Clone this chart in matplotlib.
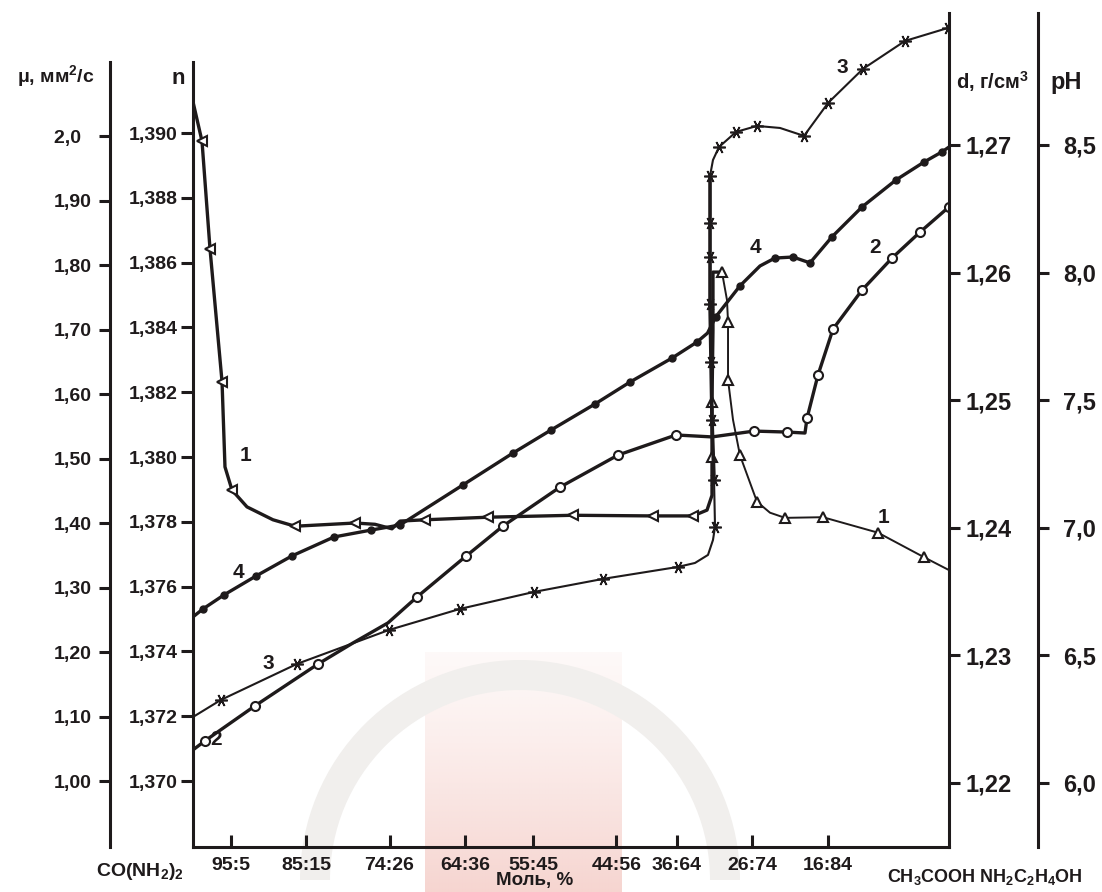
import numpy as np
import matplotlib.pyplot as plt
from matplotlib.patches import Wedge

plt.rcParams['font.family'] = ['Liberation Sans', 'DejaVu Sans']
plt.rcParams['font.weight'] = 'bold'
plt.rcParams['mathtext.fontset'] = 'custom'
plt.rcParams['mathtext.rm'] = 'Liberation Sans:bold'
plt.rcParams['mathtext.bf'] = 'Liberation Sans:bold'
plt.rcParams['mathtext.it'] = 'Liberation Sans:bold'

INK = '#1e1a1b'
W, H = 1102, 892

# x axis: mol % of the second component (CH3COOH NH2C2H4OH)
x_ticks = [5, 15, 26, 36, 45, 56, 64, 74, 84]
x_labels = ['95:5', '85:15', '74:26', '64:36', '55:45', '44:56', '36:64', '26:74', '16:84']

# tick values of the four vertical scales
mu_ticks = [1.00, 1.10, 1.20, 1.30, 1.40, 1.50, 1.60, 1.70, 1.80, 1.90, 2.0]
mu_labels = ['1,00', '1,10', '1,20', '1,30', '1,40', '1,50', '1,60', '1,70', '1,80', '1,90', '2,0  ']
n_ticks = [1.370, 1.372, 1.374, 1.376, 1.378, 1.380, 1.382, 1.384, 1.386, 1.388, 1.390]
n_labels = ['1,370', '1,372', '1,374', '1,376', '1,378', '1,380', '1,382', '1,384', '1,386', '1,388', '1,390']
d_ticks = [1.22, 1.23, 1.24, 1.25, 1.26, 1.27]
d_labels = ['1,22', '1,23', '1,24', '1,25', '1,26', '1,27']
ph_ticks = [6.0, 6.5, 7.0, 7.5, 8.0, 8.5]
ph_labels = ['6,0', '6,5', '7,0', '7,5', '8,0', '8,5']

# curve 1 - viscosity (triangles); mark: 0 none, 1 '<', 2 '^'
mu_x = [0, 1.19, 2.25, 3.84, 4.23, 5.16, 7.14, 10.58, 13.49, 21.43, 24.07, 26.32, 27.38,
        30.69, 39.02, 50.26, 60.85, 66.14, 67.99, 68.65, 68.65, 68.65, 68.78, 68.78, 69.97,
        70.63, 70.77, 70.77, 71.43, 72.35, 74.60, 76.32, 78.31, 83.33, 90.61, 96.69, 100]
mu_y = [2.053, 1.992, 1.825, 1.619, 1.487, 1.451, 1.425, 1.405, 1.395, 1.400, 1.398, 1.391, 1.403,
        1.405, 1.409, 1.412, 1.411, 1.411, 1.420, 1.443, 1.502, 1.588, 1.699, 1.789, 1.789,
        1.746, 1.712, 1.622, 1.560, 1.505, 1.433, 1.416, 1.408, 1.409, 1.385, 1.347, 1.327]
mu_mark = [0, 1, 1, 1, 0, 1, 0, 0, 1, 1, 0, 0, 0,
           1, 1, 1, 1, 1, 0, 0, 2, 2, 0, 0, 2,
           0, 2, 2, 0, 2, 2, 0, 2, 2, 2, 2, 0]
mu_peak = 24

# curve 2 - refractive index (open circles)
n_x = [0, 1.59, 8.20, 16.53, 21.16, 25.79, 29.63, 36.11, 41.01, 48.54, 56.22, 63.89, 68.65,
       74.21, 78.57, 80.95, 81.22, 82.67, 84.66, 88.49, 92.46, 96.16, 100]
n_y = [1.37096, 1.37124, 1.37232, 1.37361, 1.37426, 1.37488, 1.37568, 1.37694, 1.37787,
       1.37907, 1.38006, 1.38068, 1.38062, 1.38080, 1.38077, 1.38074, 1.38120, 1.38253,
       1.38395, 1.38515, 1.38614, 1.38694, 1.38772]
n_mark = [0, 1, 1, 1, 0, 0, 1, 1, 1, 1, 1, 1, 0, 1, 1, 0, 1, 1, 1, 1, 1, 1, 1]

# curve 3 - density (stars)
d_x = [0, 3.70, 13.76, 25.93, 35.32, 45.11, 54.23, 64.15, 66.40, 68.12, 68.78, 69.05, 68.92,
       68.65, 68.52, 68.39, 68.39, 68.39, 68.39, 68.78, 69.58, 71.83, 74.60, 77.65, 80.82,
       84.00, 88.62, 94.18, 99.87]
d_y = [1.22517, 1.22651, 1.22933, 1.23199, 1.23364, 1.23497, 1.23599, 1.23693, 1.23724,
       1.23787, 1.23904, 1.24006, 1.24375, 1.24845, 1.25299, 1.25754, 1.26122, 1.26389,
       1.26757, 1.26882, 1.26984, 1.27102, 1.27149, 1.27133, 1.27071, 1.27329, 1.27596,
       1.27815, 1.27917]
d_mark = [0, 1, 1, 1, 1, 1, 1, 1, 0, 0, 0, 1, 1, 1, 1, 1, 1, 1, 1, 0, 1, 1, 1, 0, 1, 1, 1, 1, 1]
d_steep = (12, 19)

# curve 4 - pH (filled dots)
ph_x = [0, 1.32, 4.10, 8.33, 13.10, 18.65, 23.54, 27.38, 35.71, 42.33, 47.35, 53.17, 57.80,
        63.36, 66.67, 68.06, 69.13, 72.35, 75.00, 76.98, 79.37, 81.61, 84.52, 88.49, 92.99,
        96.69, 99.07, 100]
ph_y = [6.651, 6.682, 6.737, 6.811, 6.890, 6.964, 6.991, 7.011, 7.168, 7.293, 7.383, 7.485,
        7.571, 7.665, 7.728, 7.763, 7.826, 7.948, 8.026, 8.057, 8.061, 8.038, 8.140, 8.257,
        8.363, 8.433, 8.473, 8.492]
ph_mark = [0, 1, 1, 1, 1, 1, 1, 1, 1, 1, 1, 1, 1, 1, 1, 0, 1, 1, 0, 1, 1, 1, 1, 1, 1, 1, 1, 0]


def fx(px):
    return px / W


def fy(py):
    return 1 - py / H


fig = plt.figure(figsize=(W / 100, H / 100), dpi=100)

# faint publisher watermark, drawn on a background layer in pixel units
bg = fig.add_axes([0, 0, 1, 1], zorder=-1)
bg.set_xlim(0, W)
bg.set_ylim(H, 0)
bg.axis('off')
bg.add_patch(Wedge((520, 880), 220, 180, 360, width=30, facecolor='#f1efed',
                   edgecolor='none'))
ramp = np.linspace(0, 1, 120)[:, None] ** 1.2
pink = np.zeros((120, 2, 4))
pink[..., 0], pink[..., 1], pink[..., 2] = 0.96, 0.80, 0.78
pink[..., 3] = 0.12 + 0.7 * ramp
bg.imshow(pink, extent=(425, 622, 892, 652), origin='upper', aspect='auto',
          interpolation='bilinear')

ax = fig.add_axes([fx(193), fy(847), fx(949 - 193), (847 - 13) / H])
ax.patch.set_visible(False)
ax_mu = ax.twinx()
ax_d = ax.twinx()
ax_ph = ax.twinx()

ax.set_xlim(0, 100)
ax.set_ylim(1.367963, 1.393704)
ax_mu.set_ylim(0.8977, 2.1907)
ax_d.set_ylim(1.21498, 1.28034)
ax_ph.set_ylim(5.7492, 9.0172)

for a in (ax, ax_mu, ax_d, ax_ph):
    for s in a.spines.values():
        s.set_visible(False)
        s.set_linewidth(2.2)
        s.set_color(INK)

ax.spines['left'].set_visible(True)
ax.spines['left'].set_bounds(1.367963, 1.392191)
ax.spines['bottom'].set_visible(True)
ax.set_xticks(x_ticks, x_labels)
ax.tick_params(axis='x', direction='in', length=9, width=2.2, labelsize=14, pad=7, colors=INK)
ax.set_yticks(n_ticks, n_labels)
ax.tick_params(axis='y', direction='out', length=9, width=2.2, labelsize=14, pad=2, colors=INK)

ax_mu.yaxis.tick_left()
ax_mu.spines['left'].set_visible(True)
ax_mu.spines['left'].set_position(('axes', -0.1098))
ax_mu.spines['left'].set_bounds(0.8977, 2.1147)
ax_mu.set_yticks(mu_ticks, mu_labels)
ax_mu.tick_params(axis='y', direction='out', length=8, width=2.2, labelsize=14, pad=5, colors=INK)

ax_d.spines['right'].set_visible(True)
ax_d.set_yticks(d_ticks, d_labels)
ax_d.tick_params(axis='y', direction='out', length=8, width=2.2, labelsize=17, pad=4, colors=INK)

ax_ph.spines['right'].set_visible(True)
ax_ph.spines['right'].set_position(('axes', 1.1177))
ax_ph.set_yticks(ph_ticks, ph_labels)
ax_ph.tick_params(axis='y', direction='out', length=8, width=2.2, labelsize=17, pad=10, colors=INK)


def draw_marks(a, xs, ys, flags, style):
    for code, kw in style.items():
        px = [x for x, f in zip(xs, flags) if f == code]
        py = [y for y, f in zip(ys, flags) if f == code]
        a.plot(px, py, linestyle='none', color=INK, zorder=4, **kw)


# curve 1
ax_mu.plot(mu_x[:mu_peak + 1], mu_y[:mu_peak + 1], color=INK, lw=2.4, zorder=3)
ax_mu.plot(mu_x[mu_peak:], mu_y[mu_peak:], color=INK, lw=1.4, zorder=3)
draw_marks(ax_mu, mu_x, mu_y, mu_mark, {
    1: dict(marker='<', ms=7, mfc='white', mec=INK, mew=1.5),
    2: dict(marker='^', ms=7, mfc='white', mec=INK, mew=1.5)})

# curve 2
ax.plot(n_x, n_y, color=INK, lw=2.4, zorder=3)
draw_marks(ax, n_x, n_y, n_mark, {1: dict(marker='o', ms=6.5, mfc='white', mec=INK, mew=1.5)})

# curve 3
ax_d.plot(d_x, d_y, color=INK, lw=1.5, zorder=3)
ax_d.plot(d_x[d_steep[0]:d_steep[1]], d_y[d_steep[0]:d_steep[1]], color=INK, lw=2.6, zorder=3)
draw_marks(ax_d, d_x, d_y, d_mark, {1: dict(marker=(6, 2, 90), ms=9, mec=INK, mew=1.2)})

# curve 4
ax_ph.plot(ph_x, ph_y, color=INK, lw=2.4, zorder=3)
draw_marks(ax_ph, ph_x, ph_y, ph_mark, {1: dict(marker='o', ms=5, mfc=INK, mec=INK)})

# curve numbers
for txt, x, y in [('1', 6.88, 1.38006), ('1', 91.27, 1.37812), ('2', 3.04, 1.37127),
                  ('2', 90.21, 1.38648), ('3', 9.92, 1.37364), ('3', 85.85, 1.39201),
                  ('4', 5.95, 1.37642), ('4', 74.34, 1.38648)]:
    ax.text(x, y, txt, fontsize=15, ha='center', va='center', color=INK, zorder=5)

# axis titles and component names
fig.text(fx(56), fy(76), 'μ, мм$^2$/с', fontsize=14, ha='center', va='center', color=INK)
fig.text(fx(178), fy(79), 'n', fontsize=16, ha='center', va='center', color=INK)
fig.text(fx(993), fy(82), 'd, г/см$^3$', fontsize=14.5, ha='center', va='center', color=INK)
fig.text(fx(1066), fy(82), 'pH', fontsize=17, ha='center', va='center', color=INK)
fig.text(fx(140), fy(872), 'CO(NH$_2$)$_2$', fontsize=14, ha='center', va='center', color=INK)
fig.text(fx(535), fy(881), 'Моль, %', fontsize=13.5, ha='center', va='center', color=INK)
fig.text(fx(985), fy(877), 'CH$_3$COOH NH$_2$C$_2$H$_4$OH', fontsize=13, ha='center',
         va='center', color=INK)

fig.savefig('out.png', dpi=100)
